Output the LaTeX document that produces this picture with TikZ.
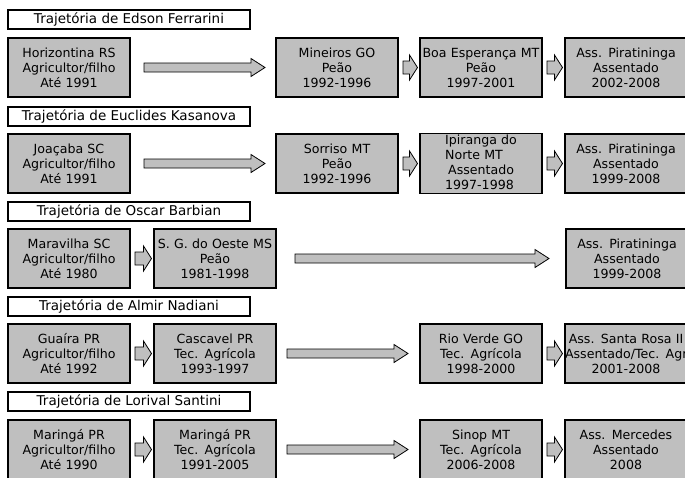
\documentclass[tikz,border=0pt]{standalone}
\usepackage{fontspec}
\setmainfont{DejaVu Sans}
\usepackage{tikz}
\usetikzlibrary{positioning}
\definecolor{boxgray}{RGB}{191,191,191}
\tikzset{title node/.style={draw, line width=1.6pt, fill=white, minimum width=242pt, minimum height=19pt, inner sep=0pt, outer sep=0pt, anchor=north west, font=\fontsize{13.5pt}{15pt}\selectfont},
  place node/.style={draw, line width=1.1pt, fill=boxgray, text width=122pt, minimum height=59pt, inner sep=0pt, outer sep=0pt, align=center, font=\fontsize{12.6pt}{15pt}\selectfont},
  arrow body/.style={draw, line width=0.8pt, fill=boxgray},}
% block arrow: from, to, gap at start, gap at end, half shaft, half head, head length
\newcommand{\drawblock}[7]{%
  \draw[arrow body] ([xshift=#3,yshift=#5]#1.east) -- ([xshift=-#4-#7,yshift=#5]#2.west)
    -- ([xshift=-#4-#7,yshift=#6]#2.west) -- ([xshift=-#4]#2.west)
    -- ([xshift=-#4-#7,yshift=-#6]#2.west) -- ([xshift=-#4-#7,yshift=-#5]#2.west)
    -- ([xshift=#3,yshift=-#5]#1.east) -- cycle;}
\newcommand{\longblock}[4]{\drawblock{#1}{#2}{#3}{#4}{4.5pt}{9pt}{14pt}}
\newcommand{\shortblock}[2]{\drawblock{#1}{#2}{5pt}{2.5pt}{6.5pt}{12.5pt}{8pt}}

\begin{document}
\begin{tikzpicture}
        \useasboundingbox (0,0) rectangle (685pt,-477pt);
        \clip (0,0) rectangle (685pt,-477pt);
        \fill[white] (0,0) rectangle (685pt,-477pt);
        % Nodes
        \node[title node] (te) at (8pt,-10pt) {Trajetória de Edson Ferrarini};
        \node[place node] [below right = 9pt and 0pt of te.south west] (e1) {Horizontina RS\\Agricultor/filho\\Até 1991};
        \node[place node] [right = 146pt of e1] (e2) {Mineiros GO\\Peão\\1992-1996};
        \node[place node] [right = 22pt of e2] (e3) {Boa Esperança MT\\Peão\\1997-2001};
        \node[place node] [right = 23pt of e3] (e4) {Ass. Piratininga\\Assentado\\2002-2008};

        \node[title node] [below right = 10pt and 0pt of e1.south west] (tk) {Trajetória de Euclides Kasanova};
        \node[place node] [below right = 8pt and 0pt of tk.south west] (k1) {Joaçaba SC\\Agricultor/filho\\Até 1991};
        \node[place node] [right = 146pt of k1] (k2) {Sorriso MT\\Peão\\1992-1996};
        \node[place node] [right = 22pt of k2] (k3) {\begin{tabular}{@{}l@{}}Ipiranga do\\Norte MT\\\hspace{3pt}Assentado\\1997-1998\end{tabular}};
        \node[place node] [right = 23pt of k3] (k4) {Ass. Piratininga\\Assentado\\1999-2008};

        \node[title node] [below right = 9pt and 0pt of k1.south west] (to) {Trajetória de Oscar Barbian};
        \node[place node] [below right = 8pt and 0pt of to.south west] (o1) {Maravilha SC\\Agricultor/filho\\Até 1980};
        \node[place node] [right = 24pt of o1] (o2) {S. G. do Oeste MS\\Peão\\1981-1998};
        \node[place node] [right = 290pt of o2] (o3) {Ass. Piratininga\\Assentado\\1999-2008};

        \node[title node] [below right = 9pt and 0pt of o1.south west] (ta) {Trajetória de Almir Nadiani};
        \node[place node] [below right = 8pt and 0pt of ta.south west] (a1) {Guaíra PR\\Agricultor/filho\\Até 1992};
        \node[place node] [right = 24pt of a1] (a2) {Cascavel PR\\Tec. Agrícola\\1993-1997};
        \node[place node] [right = 144pt of a2] (a3) {Rio Verde GO\\Tec. Agrícola\\1998-2000};
        \node[place node] [right = 23pt of a3] (a4) {Ass. Santa Rosa II\\\mbox{Assentado/Tec. Agr.}\\2001-2008};

        \node[title node] [below right = 9pt and 0pt of a1.south west] (tl) {Trajetória de Lorival Santini};
        \node[place node] [below right = 9pt and 0pt of tl.south west] (l1) {Maringá PR\\Agricultor/filho\\Até 1990};
        \node[place node] [right = 24pt of l1] (l2) {Maringá PR\\Tec. Agrícola\\1991-2005};
        \node[place node] [right = 144pt of l2] (l3) {Sinop MT\\Tec. Agrícola\\2006-2008};
        \node[place node] [right = 23pt of l3] (l4) {Ass. Mercedes\\Assentado\\2008};
        % Arrows
        \longblock{e1}{e2}{14pt}{11pt}
        \shortblock{e2}{e3}
        \shortblock{e3}{e4}
        \longblock{k1}{k2}{14pt}{11pt}
        \shortblock{k2}{k3}
        \shortblock{k3}{k4}
        \shortblock{o1}{o2}
        \longblock{o2}{o3}{19pt}{17pt}
        \shortblock{a1}{a2}
        \longblock{a2}{a3}{11pt}{12pt}
        \shortblock{a3}{a4}
        \shortblock{l1}{l2}
        \longblock{l2}{l3}{11pt}{12pt}
        \shortblock{l3}{l4}
    \end{tikzpicture}
\end{document}
